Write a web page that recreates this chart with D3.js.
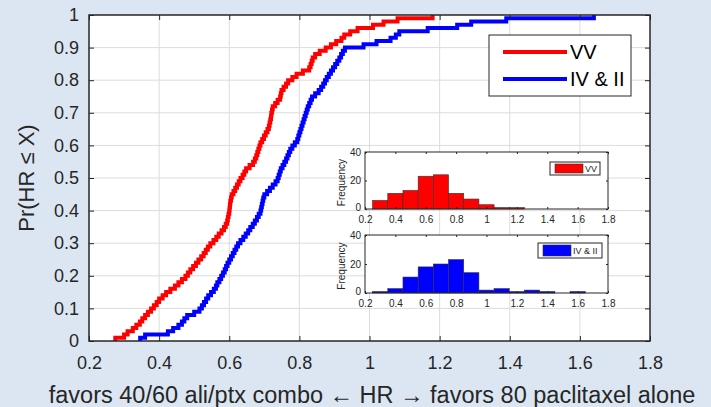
<!DOCTYPE html>
<html><head><meta charset="utf-8">
<script src="https://cdn.jsdelivr.net/npm/d3@7"></script>
<style>
body{margin:0;background:#dce6f2;}
svg{display:block;font-family:"Liberation Sans",Arial,Helvetica,sans-serif;}
</style>
</head><body>
<svg id="c" width="711" height="407"></svg>
<script>
// ---------------- data ----------------
const seriesNames = ["VV", "IV & II"];
const seriesColors = ["#ff0000", "#0000ff"];

const vvSamples = [0.275,0.30,0.31,0.325,0.335,0.345,
0.352,0.36,0.368,0.377,0.385,0.393,0.40,0.41,0.42,0.432,0.445,
0.455,0.465,0.475,0.482,0.489,0.497,0.505,0.512,0.52,0.527,0.533,0.539,0.546,
0.555,0.563,0.57,0.578,0.585,0.59,0.594,0.596,0.598,0.60,0.601,0.602,0.603,0.605,0.607,0.612,0.617,0.622,0.627,0.632,0.638,0.643,0.648,
0.658,0.668,0.673,0.677,0.68,0.683,0.686,0.689,0.694,0.699,0.704,0.709,0.713,0.715,0.717,0.719,0.72,0.722,0.724,0.731,0.738,0.745,0.747,0.749,
0.755,0.762,0.768,0.78,0.792,0.81,0.828,0.832,0.835,0.838,0.845,
0.858,0.875,0.89,0.905,0.92,0.928,0.945,
0.966,1.01,1.04,1.08,1.18];

const ivSamples = [0.346,
0.36,0.425,0.44,
0.455,0.465,0.472,0.48,0.50,0.515,0.522,0.528,0.534,0.54,0.548,
0.556,0.562,0.566,0.572,0.577,0.582,0.587,0.591,0.595,0.6,0.605,0.61,0.615,0.62,0.625,0.632,0.64,0.647,
0.654,0.66,0.667,0.673,0.679,0.684,0.689,0.691,0.693,0.695,0.697,0.70,0.708,0.716,0.724,0.732,0.738,0.741,0.744,0.747,
0.752,0.757,0.762,0.766,0.77,0.774,0.78,0.787,0.794,0.797,0.80,0.803,0.806,0.809,0.812,0.815,0.818,0.821,0.824,0.828,0.832,0.836,0.845,
0.855,0.862,0.868,0.873,0.878,0.884,0.89,0.896,0.902,0.908,0.914,0.919,0.924,0.93,
0.983,1.02,
1.06,1.075,1.085,
1.166,1.25,1.29,1.39,1.64];

const xTicks = [0.2,0.4,0.6,0.8,1,1.2,1.4,1.6,1.8];
const yTicks = [0,0.1,0.2,0.3,0.4,0.5,0.6,0.7,0.8,0.9,1];
const histDomain = [0.25, 1.75];
const histThresholds = [0.35,0.45,0.55,0.65,0.75,0.85,0.95,1.05,1.15,1.25,1.35,1.45,1.55,1.65];
const insetXTicks = [0.2,0.4,0.6,0.8,1,1.2,1.4,1.6,1.8];
const insetYTicks = [0,20,40];
const xLabel = "favors 40/60 ali/ptx combo \u2190 HR \u2192 favors 80 paclitaxel alone";
const yLabel = "Pr(HR \u2264 X)";

// ---------------- drawing ----------------
const svg = d3.select("#c");
const axisColor = "#262626";
const gridColor = "#dcdcdc";
const M = {l:89, r:650, t:15, b:341};

const x = d3.scaleLinear([0.2,1.8],[M.l,M.r]);
const y = d3.scaleLinear([0,1],[M.b,M.t]);

svg.append("rect").attr("width",711).attr("height",407).attr("fill","#dce6f2");
svg.append("rect").attr("x",M.l).attr("y",M.t).attr("width",M.r-M.l).attr("height",M.b-M.t).attr("fill","#fff");

// grid
const g = svg.append("g");
g.selectAll(".gx").data(xTicks.slice(1,-1)).join("line")
  .attr("x1",d=>x(d)).attr("x2",d=>x(d)).attr("y1",M.t).attr("y2",M.b)
  .attr("stroke",gridColor).attr("stroke-width",1);
g.selectAll(".gy").data(yTicks.slice(1,-1)).join("line")
  .attr("y1",d=>y(d)).attr("y2",d=>y(d)).attr("x1",M.l).attr("x2",M.r)
  .attr("stroke",gridColor).attr("stroke-width",1);

// ECDF lines
function ecdfPoints(s){
  const v = s.slice().sort(d3.ascending);
  const n = v.length;
  const pts = [[v[0],0]];
  v.forEach((d,i)=>pts.push([d,(i+1)/n]));
  return pts;
}
const line = d3.line().x(d=>x(d[0])).y(d=>y(d[1])).curve(d3.curveStepAfter);
[vvSamples, ivSamples].forEach((s,i)=>{
  svg.append("path").attr("d",line(ecdfPoints(s))).attr("fill","none")
    .attr("stroke",seriesColors[i]).attr("stroke-width",4).attr("stroke-linejoin","miter");
});

// axes
function styleAxis(sel){
  sel.select(".domain").remove();
  sel.selectAll(".tick line").attr("stroke",axisColor);
  sel.selectAll(".tick text").attr("fill",axisColor);
}
svg.append("g").attr("transform",`translate(0,${M.b})`)
  .call(d3.axisBottom(x).tickValues(xTicks).tickFormat(d3.format("~g")).tickSizeInner(-5).tickSizeOuter(0).tickPadding(15))
  .call(styleAxis).selectAll("text").attr("font-size",18).attr("font-family","Liberation Sans, Arial, sans-serif");
svg.append("g").attr("transform",`translate(0,${M.t})`)
  .call(d3.axisTop(x).tickValues(xTicks).tickFormat("").tickSizeInner(-5).tickSizeOuter(0))
  .call(styleAxis);
svg.append("g").attr("transform",`translate(${M.l},0)`)
  .call(d3.axisLeft(y).tickValues(yTicks).tickFormat(d3.format("~g")).tickSizeInner(-5).tickSizeOuter(0).tickPadding(10))
  .call(styleAxis).selectAll("text").attr("font-size",18).attr("font-family","Liberation Sans, Arial, sans-serif");
svg.append("g").attr("transform",`translate(${M.r},0)`)
  .call(d3.axisRight(y).tickValues(yTicks).tickFormat("").tickSizeInner(-5).tickSizeOuter(0))
  .call(styleAxis);
svg.append("rect").attr("x",M.l).attr("y",M.t).attr("width",M.r-M.l).attr("height",M.b-M.t)
  .attr("fill","none").attr("stroke",axisColor).attr("stroke-width",1.5);

// labels
svg.append("text").attr("x",372).attr("y",403).attr("text-anchor","middle")
  .attr("font-size",23.5).attr("fill",axisColor).text(xLabel);
svg.append("text").attr("transform",`translate(34,${(M.t+M.b)/2}) rotate(-90)`).attr("text-anchor","middle")
  .attr("font-size",22).attr("fill",axisColor).text(yLabel);

// main legend
const lg = svg.append("g");
lg.append("rect").attr("x",489).attr("y",35).attr("width",142).attr("height",61)
  .attr("fill","#fff").attr("stroke",axisColor).attr("stroke-width",1);
seriesNames.forEach((nm,i)=>{
  const yy = 52 + i*27;
  lg.append("line").attr("x1",503).attr("x2",567).attr("y1",yy).attr("y2",yy)
    .attr("stroke",seriesColors[i]).attr("stroke-width",4);
  lg.append("text").attr("x",570).attr("y",yy+7).attr("font-size",20).attr("fill","#000").text(nm);
});

// insets
const insets = [
  {samples: vvSamples, top:152, bottom:209, legend:{x:550,y:162,w:50,h:13}},
  {samples: ivSamples, top:235, bottom:293, legend:{x:538,y:243,w:64,h:15}}
];
const bin = d3.bin().domain(histDomain).thresholds(histThresholds);
insets.forEach((ins,i)=>{
  const xi = d3.scaleLinear([0.2,1.8],[365,608]);
  const yi = d3.scaleLinear([0,40],[ins.bottom,ins.top]);
  const gi = svg.append("g");
  gi.append("rect").attr("x",365).attr("y",ins.top).attr("width",608-365).attr("height",ins.bottom-ins.top)
    .attr("fill","#fff");
  const bins = bin(ins.samples).filter(b=>b.length>0);
  gi.selectAll("rect.bar").data(bins).join("rect").attr("class","bar")
    .attr("x",d=>xi(d.x0)).attr("width",d=>xi(d.x1)-xi(d.x0))
    .attr("y",d=>yi(d.length)).attr("height",d=>yi(0)-yi(d.length))
    .attr("fill",seriesColors[i]).attr("stroke","#333").attr("stroke-width",0.6);
  const fs = 10;
  gi.append("g").attr("transform",`translate(0,${ins.bottom})`)
    .call(d3.axisBottom(xi).tickValues(insetXTicks).tickFormat(d3.format("~g")).tickSizeInner(-2).tickSizeOuter(0).tickPadding(7))
    .call(styleAxis).selectAll("text").attr("font-size",fs).attr("font-family","Liberation Sans, Arial, sans-serif");
  gi.append("g").attr("transform",`translate(0,${ins.top})`)
    .call(d3.axisTop(xi).tickValues(insetXTicks).tickFormat("").tickSizeInner(-2).tickSizeOuter(0))
    .call(styleAxis);
  gi.append("g").attr("transform",`translate(365,0)`)
    .call(d3.axisLeft(yi).tickValues(insetYTicks).tickSizeInner(-2).tickSizeOuter(0).tickPadding(4))
    .call(styleAxis).selectAll("text").attr("font-size",fs).attr("font-family","Liberation Sans, Arial, sans-serif")
    .attr("dy", d=> d===0 ? "0.1em" : "0.32em");
  gi.append("g").attr("transform",`translate(608,0)`)
    .call(d3.axisRight(yi).tickValues(insetYTicks).tickFormat("").tickSizeInner(-2).tickSizeOuter(0))
    .call(styleAxis);
  gi.append("rect").attr("x",365).attr("y",ins.top).attr("width",608-365).attr("height",ins.bottom-ins.top)
    .attr("fill","none").attr("stroke",axisColor).attr("stroke-width",1);
  gi.append("text").attr("transform",`translate(345,${(ins.top+ins.bottom)/2+2}) rotate(-90)`)
    .attr("text-anchor","middle").attr("font-size",fs).attr("fill",axisColor).text("Frequency");
  const L = ins.legend;
  gi.append("rect").attr("x",L.x).attr("y",L.y).attr("width",L.w).attr("height",L.h)
    .attr("fill","#fff").attr("stroke",axisColor).attr("stroke-width",1);
  gi.append("rect").attr("x",L.x+5).attr("y",L.y+2).attr("width",28).attr("height",L.h-4)
    .attr("fill",seriesColors[i]).attr("stroke","#333").attr("stroke-width",0.6);
  gi.append("text").attr("x",L.x+35).attr("y",L.y+L.h/2+3.5).attr("font-size",9)
    .attr("fill",axisColor).text(seriesNames[i]);
});
</script>
</body></html>
